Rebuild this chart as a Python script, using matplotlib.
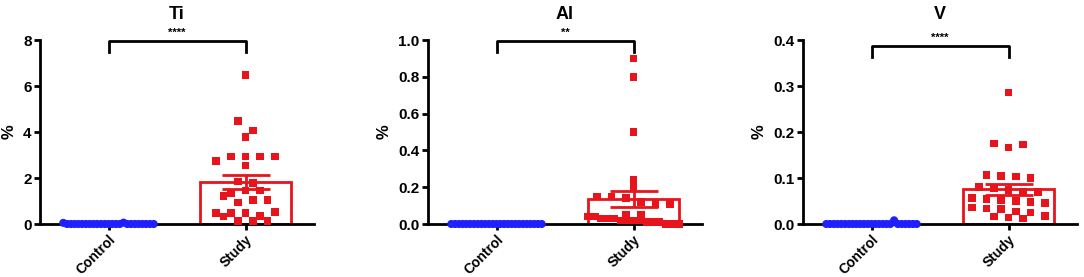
import numpy as np
import matplotlib
matplotlib.use("Agg")
import matplotlib.pyplot as plt

plt.rcParams['font.family'] = ['Liberation Sans', 'DejaVu Sans']
plt.rcParams['font.weight'] = 'bold'

groups = ["Control", "Study"]
titles = ["Ti", "Al", "V"]
stars = ["****", "**", "****"]
y_max = [8, 1.0, 0.4]
y_ticks = [[0, 2, 4, 6, 8],
           [0.0, 0.2, 0.4, 0.6, 0.8, 1.0],
           [0.0, 0.1, 0.2, 0.3, 0.4]]
y_fmt = ["{:.0f}", "{:.1f}", "{:.1f}"]

# --- values (%) ---
ti_control = [0.05, 0, 0, 0, 0, 0, 0, 0, 0, 0, 0, 0, 0, 0, 0, 0, 0.06,
              0, 0, 0, 0, 0, 0, 0, 0]
ti_study = [6.48, 4.49, 4.07, 3.77, 2.74, 2.93, 2.55, 2.93, 2.93, 2.93,
            1.84, 1.78, 1.22, 1.33, 1.45, 1.45, 0.93, 1.04, 1.04,
            0.49, 0.49, 0.49, 0.35, 0.52, 0.32, 0.12, 0.12, 0.12]

al_control = [0] * 25
al_study = [0.90, 0.80, 0.50, 0.24, 0.20, 0.15, 0.15, 0.14, 0.12, 0.11,
            0.11, 0.05, 0.05, 0.04, 0.04, 0.03, 0.03, 0.03, 0.02, 0.02,
            0.02, 0.02, 0.01, 0.01, 0.01, 0.0, 0.0, 0.0]

v_control = [0, 0, 0, 0, 0, 0, 0, 0, 0, 0, 0, 0, 0, 0, 0, 0, 0, 0, 0.008,
             0, 0, 0, 0, 0, 0]
v_study = [0.286, 0.175, 0.166, 0.173, 0.106, 0.104, 0.103, 0.100, 0.080,
           0.078, 0.074, 0.070, 0.070, 0.056, 0.054, 0.052, 0.050, 0.048,
           0.046, 0.036, 0.034, 0.033, 0.027, 0.025, 0.017, 0.016, 0.014,
           0.012]

data = [(ti_control, ti_study), (al_control, al_study), (v_control, v_study)]

BLUE = "#1f1fff"
RED = "#e8141c"

# axes rectangles in pixels (left, width) -> figure fraction
W, H = 1084, 277
lefts = [40, 428, 803]
ax_w, ax_b, ax_h = 274, 53, 184
bracket_y = [0.995, 0.995, 0.97]


def swarm_offsets(vals, row_h, step, max_half):
    # Prism-like scatter: group into rows, spread each row symmetrically
    vals = np.asarray(vals, dtype=float)
    rows = np.floor(vals / row_h + 0.3).astype(int)
    offs = np.zeros(len(vals))
    for r in np.unique(rows):
        idx = np.where(rows == r)[0]
        n = len(idx)
        s = step if n <= 1 else min(step, 2 * max_half / (n - 1))
        offs[idx] = (np.arange(n) - (n - 1) / 2) * s
    return offs


fig = plt.figure(figsize=(W / 100, H / 100), dpi=100)

for k in range(3):
    ax = fig.add_axes([lefts[k] / W, ax_b / H, ax_w / W, ax_h / H])
    ctrl, stud = data[k]
    row_h = y_max[k] * 0.058

    for i, (vals, col, mk, sz) in enumerate([(ctrl, BLUE, 'o', 34),
                                             (stud, RED, 's', 30)]):
        x = i + 1
        vals = np.asarray(vals, dtype=float)
        mean = vals.mean()
        sem = vals.std(ddof=1) / np.sqrt(len(vals))
        ax.bar(x, mean, width=0.67, fill=False, edgecolor=col, linewidth=2,
               zorder=2)
        if mean > 0:
            ax.errorbar(x, mean, yerr=sem, fmt='none', ecolor=col,
                        elinewidth=2, capsize=17, capthick=2, zorder=3)
        offs = swarm_offsets(vals, row_h, 0.107, 0.33)
        ax.scatter(x + offs, vals, marker=mk, s=sz, color=col,
                   edgecolors='none', zorder=4, clip_on=False)

    ax.set_xlim(0.5, 2.5)
    ax.set_ylim(0, y_max[k])
    ax.set_yticks(y_ticks[k])
    ax.set_yticklabels([y_fmt[k].format(t) for t in y_ticks[k]],
                       fontsize=11, fontweight='bold')
    ax.set_xticks([1, 2])
    ax.set_xticklabels(groups, rotation=45, ha='right',
                       rotation_mode='anchor', fontsize=10, fontweight='bold')
    ax.tick_params(axis='both', width=2, length=4, pad=2)
    for sp in ['top', 'right']:
        ax.spines[sp].set_visible(False)
    for sp in ['left', 'bottom']:
        ax.spines[sp].set_linewidth(2)
    ax.set_ylabel("%", fontsize=12, fontweight='bold', labelpad=5)
    ax.set_title(titles[k], fontsize=13, fontweight='bold', pad=15)

    # significance bracket
    by = bracket_y[k]
    trans = ax.get_xaxis_transform()
    ax.plot([1, 1, 2, 2], [by - 0.06, by, by, by - 0.06], color='black',
            linewidth=2, transform=trans, clip_on=False)
    ax.text(1.5, by + 0.015, stars[k], transform=trans, ha='center',
            va='bottom', fontsize=8, fontweight='bold')

fig.savefig("out.png", dpi=100)
